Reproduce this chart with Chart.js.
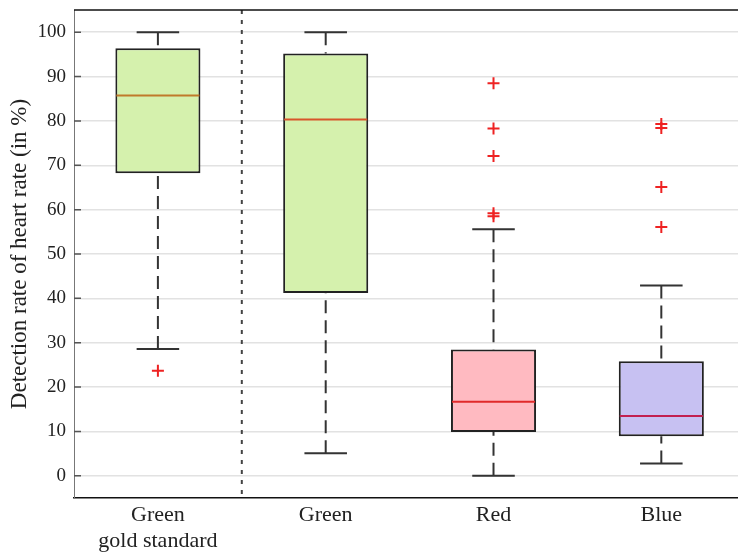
<!DOCTYPE html>
<html>
<head>
<meta charset="utf-8">
<script src="https://cdn.jsdelivr.net/npm/chart.js@4.4.1/dist/chart.umd.min.js"></script>
<style>
  body { margin: 0; background: #fff; }
  #wrap { width: 738px; height: 553px; }
</style>
</head>
<body>
<div id="wrap"><canvas id="graphique"></canvas></div>
<script>
// box plot values
var categories = [["Green", "gold standard"], "Green", "Red", "Blue"];
var whiskerHigh = [100, 100, 55.6, 42.9];
var quartileHigh = [96.4, 95.2, 28.5, 25.8];
var medians = [85.7, 80.3, 16.7, 13.5];
var quartileLow = [68.2, 41.2, 9.9, 8.9];
var whiskerLow = [28.6, 5.1, 0, 2.8];
var outliers = [[23.7], [], [88.5, 78.3, 72.1, 59.2, 58.5], [79.3, 78.4, 65.1, 56.1]];
var yTicks = [0, 10, 20, 30, 40, 50, 60, 70, 80, 90, 100];

var boxFill = ["#d5f1ad", "#d5f1ad", "#ffbac1", "#c7c1f2"];
var medianColor = ["#c07a2a", "#d8552a", "#e02a2a", "#c22050"];
var police = "'Liberation Serif', 'Times New Roman', serif";

var boites = [];
var pointsHors = [];
for (let i = 0; i < categories.length; i++) {
    boites.push({ x: i + 1, y: [quartileLow[i], quartileHigh[i]] });
    for (let j = 0; j < outliers[i].length; j++) {
        pointsHors.push({ x: i + 1, y: outliers[i][j] });
    }
}

var dessinBoites = {
    id: "dessinBoites",
    beforeDatasetsDraw: function(chart) {
        var ctx = chart.ctx;
        var xs = chart.scales.x;
        var ys = chart.scales.y;
        var zone = chart.chartArea;
        var meta = chart.getDatasetMeta(0);
        ctx.save();
        // separator between the gold standard and the rest
        ctx.strokeStyle = "#444";
        ctx.lineWidth = 2;
        ctx.setLineDash([4, 6]);
        var xs15 = xs.getPixelForValue(1.5);
        ctx.beginPath();
        ctx.moveTo(xs15, zone.top);
        ctx.lineTo(xs15, zone.bottom);
        ctx.stroke();
        // whiskers
        ctx.strokeStyle = "#333";
        ctx.lineWidth = 2;
        for (let i = 0; i < categories.length; i++) {
            var x = xs.getPixelForValue(i + 1);
            var demi = meta.data[i].width / 4;
            ctx.setLineDash([13, 7]);
            ctx.beginPath();
            ctx.moveTo(x, ys.getPixelForValue(whiskerHigh[i]));
            ctx.lineTo(x, ys.getPixelForValue(quartileHigh[i]));
            ctx.moveTo(x, ys.getPixelForValue(whiskerLow[i]));
            ctx.lineTo(x, ys.getPixelForValue(quartileLow[i]));
            ctx.stroke();
            ctx.setLineDash([]);
            ctx.beginPath();
            ctx.moveTo(x - demi, ys.getPixelForValue(whiskerHigh[i]));
            ctx.lineTo(x + demi, ys.getPixelForValue(whiskerHigh[i]));
            ctx.moveTo(x - demi, ys.getPixelForValue(whiskerLow[i]));
            ctx.lineTo(x + demi, ys.getPixelForValue(whiskerLow[i]));
            ctx.stroke();
        }
        ctx.restore();
    },
    afterDatasetsDraw: function(chart) {
        var ctx = chart.ctx;
        var xs = chart.scales.x;
        var ys = chart.scales.y;
        var zone = chart.chartArea;
        var meta = chart.getDatasetMeta(0);
        ctx.save();
        ctx.lineWidth = 2;
        for (let i = 0; i < categories.length; i++) {
            var x = xs.getPixelForValue(i + 1);
            var demi = meta.data[i].width / 2 - 1;
            var y = ys.getPixelForValue(medians[i]);
            ctx.strokeStyle = medianColor[i];
            ctx.beginPath();
            ctx.moveTo(x - demi, y);
            ctx.lineTo(x + demi, y);
            ctx.stroke();
        }
        // frame top and small inner ticks
        ctx.strokeStyle = "#111";
        ctx.lineWidth = 1.5;
        ctx.beginPath();
        ctx.moveTo(zone.left, zone.top);
        ctx.lineTo(zone.right, zone.top);
        ctx.stroke();
        ctx.strokeStyle = "#555";
        ctx.lineWidth = 1.5;
        ctx.beginPath();
        for (let k = 0; k < yTicks.length; k++) {
            var yt = ys.getPixelForValue(yTicks[k]);
            ctx.moveTo(zone.left, yt);
            ctx.lineTo(zone.left + 7, yt);
        }
        ctx.stroke();
        ctx.restore();
    }
};

var ctx = document.getElementById("graphique").getContext("2d");
var chart = new Chart(ctx, {
    type: "bar",
    data: {
        datasets: [{
            type: "bar",
            data: boites,
            backgroundColor: boxFill,
            borderColor: "#222",
            borderWidth: 2,
            borderSkipped: false,
            barPercentage: 0.507,
            categoryPercentage: 1
        }, {
            type: "scatter",
            data: pointsHors,
            pointStyle: "cross",
            pointRadius: 6,
            borderWidth: 2,
            borderColor: "#ee2222",
            backgroundColor: "#ee2222"
        }]
    },
    options: {
        responsive: true,
        maintainAspectRatio: false,
        animation: false,
        layout: { autoPadding: false, padding: { top: 0, right: 0, left: 0, bottom: 0 } },
        plugins: { legend: { display: false }, tooltip: { enabled: false } },
        scales: {
            x: {
                type: "linear",
                offset: false,
                min: 0.5,
                max: 4.457,
                grid: { display: false, drawTicks: false, offset: false },
                border: { color: "#111", width: 1.5 },
                afterBuildTicks: function(scale) {
                    scale.ticks = categories.map(function(c, i) { return { value: i + 1 }; });
                },
                afterFit: function(scale) {
                    scale.height = 55;
                    scale.paddingLeft = 0;
                    scale.paddingRight = 0;
                },
                ticks: {
                    padding: 4,
                    autoSkip: false,
                    maxRotation: 0,
                    color: "#222",
                    font: { family: police, size: 22, lineHeight: 1.2 },
                    callback: function(v) { return categories[v - 1]; }
                }
            },
            y: {
                min: -5,
                max: 105,
                grid: { color: "#e2e2e2", lineWidth: 1.5, drawTicks: false },
                border: { color: "#777", width: 1 },
                afterBuildTicks: function(scale) {
                    scale.ticks = yTicks.map(function(v) { return { value: v }; });
                },
                afterFit: function(scale) {
                    scale.width = 74;
                    scale.paddingTop = 10;
                    scale.paddingBottom = 0;
                },
                ticks: {
                    padding: 8,
                    color: "#222",
                    font: { family: police, size: 19 }
                },
                title: {
                    display: true,
                    text: "Detection rate of heart rate (in %)",
                    color: "#222",
                    padding: { top: 6, bottom: 0 },
                    font: { family: police, size: 23 }
                }
            }
        }
    },
    plugins: [dessinBoites]
});
</script>
</body>
</html>
